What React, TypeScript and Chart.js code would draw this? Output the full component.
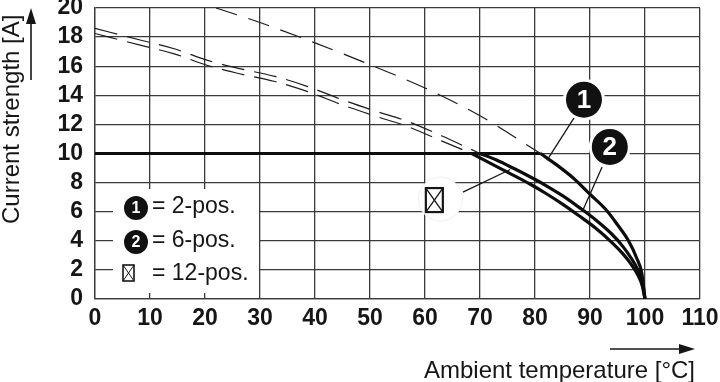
import React, { useEffect, useRef } from "react";
import { Chart, registerables } from "chart.js";

Chart.register(...registerables);

// ---- axis ticks ----
const xTickValues = [0, 10, 20, 30, 40, 50, 60, 70, 80, 90, 100, 110];
const xTickLabels = ["0", "10", "20", "30", "40", "50", "60", "70", "80", "90", "100", "110"];
const yTickValues = [0, 2, 4, 6, 8, 10, 12, 14, 16, 18, 20];
const yTickLabels = ["0", "2", "4", "6", "8", "10", "12", "14", "16", "18", "20"];

// ---- rated current (common horizontal part) ----
const ratedX = [0, 81];
const ratedY = [10, 10];

// ---- 2-pos. ----
const pos2X = [81, 84, 87, 90, 93, 95, 97, 98.5, 99.4, 100];
const pos2Y = [10, 9.2, 8.3, 7.2, 6.1, 5.1, 4.0, 2.8, 1.8, 0];
const pos2DashX = [22, 30, 40, 50, 60, 70, 76, 81];
const pos2DashY = [20, 19.0, 17.6, 16.1, 14.5, 12.6, 11.2, 10];

// ---- 6-pos. ----
const pos6X = [70, 73, 76, 79, 82, 85, 88, 91, 94, 96, 97.5, 98.7, 99.5, 100];
const pos6Y = [10, 9.55, 9.0, 8.42, 7.8, 7.1, 6.3, 5.45, 4.45, 3.6, 2.8, 2.0, 1.2, 0];
const pos6DashX = [0, 8.2, 14.4, 20.5, 25.5, 32.7, 38.7, 44.9, 51.1, 56.9, 63.1, 70];
const pos6DashY = [18.6, 17.8, 17.2, 16.4, 15.9, 15.3, 14.6, 13.7, 12.9, 12.2, 11.2, 10];

// ---- 12-pos. ----
const pos12X = [68.5, 72, 75.5, 79, 82, 85, 88, 91, 94, 96, 97.5, 98.7, 99.5, 100];
const pos12Y = [10, 9.3, 8.62, 7.92, 7.25, 6.52, 5.72, 4.88, 3.88, 3.1, 2.38, 1.65, 0.9, 0];
const pos12DashX = [0, 8.2, 14.4, 20.5, 25.5, 32.7, 38.7, 44.9, 51.1, 56.9, 63.1, 68.5];
const pos12DashY = [18.25, 17.45, 16.85, 16.05, 15.55, 14.95, 14.25, 13.35, 12.55, 11.85, 10.85, 10];

// ---- annotations (data coordinates) ----
const badgeLabels = ["1", "2"];
const badgeX = [88.9, 93.6];
const badgeY = [13.7, 10.45];
const leaderFromX = [87.1, 92.2, 66.9];
const leaderFromY = [12.45, 9.07, 7.35];
const leaderToX = [82.2, 88.7, 75.5];
const leaderToY = [9.55, 6.1, 8.9];
const boxMarkX = 61.7;
const boxMarkY = 6.8;

// ---- legend ----
const legendTexts = ["= 2-pos.", "= 6-pos.", "= 12-pos."];
const legendMarks = ["1", "2", "box"];

const yTitle = "Current strength [A]";
const xTitle = "Ambient temperature [°C]";

const FAMILY = '"Liberation Sans", Arial, Helvetica, sans-serif';
const INK = "#161616";

function zip(xs: number[], ys: number[]) {
  return xs.map((x, i) => ({ x, y: ys[i] }));
}

function drawArrow(ctx: CanvasRenderingContext2D, x1: number, y1: number, x2: number, y2: number) {
  const headLen = 16;
  const headW = 5;
  const ang = Math.atan2(y2 - y1, x2 - x1);
  const bx = x2 - headLen * Math.cos(ang);
  const by = y2 - headLen * Math.sin(ang);
  ctx.save();
  ctx.strokeStyle = INK;
  ctx.fillStyle = INK;
  ctx.lineWidth = 1.6;
  ctx.beginPath();
  ctx.moveTo(x1, y1);
  ctx.lineTo(bx, by);
  ctx.stroke();
  ctx.beginPath();
  ctx.moveTo(x2, y2);
  ctx.lineTo(bx + headW * Math.sin(ang), by - headW * Math.cos(ang));
  ctx.lineTo(bx - headW * Math.sin(ang), by + headW * Math.cos(ang));
  ctx.closePath();
  ctx.fill();
  ctx.restore();
}

function drawBoxX(ctx: CanvasRenderingContext2D, cx: number, cy: number, w: number, h: number, lw: number) {
  ctx.save();
  ctx.strokeStyle = INK;
  ctx.lineWidth = lw;
  ctx.strokeRect(cx - w / 2, cy - h / 2, w, h);
  ctx.lineWidth = lw * 0.6;
  ctx.beginPath();
  ctx.moveTo(cx - w / 2, cy - h / 2);
  ctx.lineTo(cx + w / 2, cy + h / 2);
  ctx.moveTo(cx + w / 2, cy - h / 2);
  ctx.lineTo(cx - w / 2, cy + h / 2);
  ctx.stroke();
  ctx.restore();
}

function drawBadge(ctx: CanvasRenderingContext2D, cx: number, cy: number, r: number, label: string, size: number, halo: number) {
  ctx.save();
  if (halo > 0) {
    ctx.fillStyle = "#ffffff";
    ctx.beginPath();
    ctx.arc(cx, cy, r + halo, 0, Math.PI * 2);
    ctx.fill();
  }
  ctx.fillStyle = "#111111";
  ctx.beginPath();
  ctx.arc(cx, cy, r, 0, Math.PI * 2);
  ctx.fill();
  ctx.fillStyle = "#ffffff";
  ctx.font = `bold ${size}px ${FAMILY}`;
  ctx.textAlign = "center";
  ctx.textBaseline = "middle";
  ctx.fillText(label, cx, cy + size * 0.05);
  ctx.restore();
}

const decorPlugin = {
  id: "decor",
  beforeDraw(chart: any) {
    const { ctx, width, height } = chart;
    ctx.save();
    ctx.fillStyle = "#ffffff";
    ctx.fillRect(0, 0, width, height);
    ctx.restore();
  },
  afterDatasetsDraw(chart: any) {
    const { ctx, chartArea } = chart;
    const xs = chart.scales.x;
    const ys = chart.scales.y;
    const L = chartArea.left;
    const B = chartArea.bottom;

    // legend box (white, covering the grid)
    ctx.save();
    ctx.fillStyle = "#ffffff";
    ctx.fillRect(L + 18, B - 110, 146, 104);
    ctx.restore();
    ctx.save();
    ctx.font = `23px ${FAMILY}`;
    ctx.fillStyle = INK;
    ctx.textAlign = "left";
    ctx.textBaseline = "alphabetic";
    const rowBase = [B - 86, B - 52, B - 19];
    legendTexts.forEach((t, i) => {
      ctx.fillText(t, L + 57, rowBase[i]);
      const m = legendMarks[i];
      if (m === "box") {
        drawBoxX(ctx, L + 33.5, rowBase[i] - 7, 11, 16, 1.6);
      } else {
        drawBadge(ctx, L + 41, rowBase[i] - 5, 12, m, 16, 0);
      }
    });
    ctx.restore();

    // leader lines
    ctx.save();
    ctx.strokeStyle = INK;
    ctx.lineWidth = 1.3;
    leaderFromX.forEach((fx, i) => {
      ctx.beginPath();
      ctx.moveTo(xs.getPixelForValue(fx), ys.getPixelForValue(leaderFromY[i]));
      ctx.lineTo(xs.getPixelForValue(leaderToX[i]), ys.getPixelForValue(leaderToY[i]));
      ctx.stroke();
    });
    ctx.restore();

    // badges
    badgeLabels.forEach((lab, i) => {
      drawBadge(ctx, xs.getPixelForValue(badgeX[i]), ys.getPixelForValue(badgeY[i]), 18, lab, 26, 3);
    });

    // 12-pos box marker with halo
    const bx = xs.getPixelForValue(boxMarkX);
    const by = ys.getPixelForValue(boxMarkY);
    ctx.save();
    ctx.fillStyle = "#ffffff";
    ctx.strokeStyle = "#f0f0f0";
    ctx.lineWidth = 1;
    ctx.beginPath();
    ctx.arc(bx + 6, by - 1, 22, 0, Math.PI * 2);
    ctx.fill();
    ctx.stroke();
    ctx.restore();
    drawBoxX(ctx, bx, by, 17, 24, 2.2);
  },
  afterDraw(chart: any) {
    const { ctx, chartArea } = chart;
    const L = chartArea.left;
    const T = chartArea.top;
    const R = chartArea.right;
    const B = chartArea.bottom;
    ctx.save();
    ctx.fillStyle = INK;
    ctx.font = `24px ${FAMILY}`;
    // y title
    ctx.save();
    ctx.translate(L - 76, B - 75);
    ctx.rotate(-Math.PI / 2);
    ctx.textAlign = "left";
    ctx.textBaseline = "alphabetic";
    ctx.fillText(yTitle, 0, 0);
    ctx.restore();
    // x title
    ctx.textAlign = "right";
    ctx.textBaseline = "alphabetic";
    ctx.fillText(xTitle, R - 5, B + 79);
    ctx.restore();
    // arrows
    drawArrow(ctx, L - 64, T + 72, L - 64, T);
    drawArrow(ctx, R - 90, B + 50, R - 5, B + 50);
  },
};

export default function App() {
  const ref = useRef<HTMLCanvasElement>(null);
  useEffect(() => {
    const canvas = ref.current;
    if (!canvas) return;
    const solid = (data: any[]) => ({
      data,
      borderColor: "#0d0d0d",
      borderWidth: 3.2,
      pointRadius: 0,
      fill: false,
      cubicInterpolationMode: "monotone",
    });
    const dashed = (data: any[], dash: number[]) => ({
      data,
      borderColor: "#1c1c1c",
      borderWidth: 1.2,
      borderDash: dash,
      pointRadius: 0,
      fill: false,
      cubicInterpolationMode: "monotone",
    });
    const tickFont = { family: FAMILY, size: 23, weight: "bold" as const };
    const chart = new Chart(canvas, {
      type: "line",
      data: {
        datasets: [
          dashed(zip(pos2DashX, pos2DashY), [22, 12]),
          dashed(zip(pos6DashX, pos6DashY), [23, 10]),
          dashed(zip(pos12DashX, pos12DashY), [23, 10]),
          solid(zip(ratedX, ratedY)),
          solid(zip(pos2X, pos2Y)),
          solid(zip(pos6X, pos6Y)),
          solid(zip(pos12X, pos12Y)),
        ] as any,
      },
      options: {
        animation: false,
        responsive: false,
        events: [],
        layout: { padding: { left: 0, top: 8, right: 20, bottom: 0 } },
        plugins: { legend: { display: false }, tooltip: { enabled: false } },
        scales: {
          x: {
            type: "linear",
            min: 0,
            max: 110,
            afterBuildTicks: (s: any) => {
              s.ticks = xTickValues.map((v) => ({ value: v }));
            },
            ticks: {
              autoSkip: false,
              maxRotation: 0,
              padding: 6,
              color: INK,
              font: tickFont,
              callback: (v: any) => xTickLabels[xTickValues.indexOf(Number(v))],
            },
            grid: { color: "#3a3a3a", lineWidth: 1.3, drawTicks: false },
            border: { color: "#3a3a3a", width: 1.3 },
            afterFit: (s: any) => {
              s.height = 83;
              s.paddingLeft = 0;
              s.paddingRight = 0;
            },
          },
          y: {
            type: "linear",
            min: 0,
            max: 20,
            afterBuildTicks: (s: any) => {
              s.ticks = yTickValues.map((v) => ({ value: v }));
            },
            ticks: {
              autoSkip: false,
              padding: 12,
              color: INK,
              font: tickFont,
              callback: (v: any) => yTickLabels[yTickValues.indexOf(Number(v))],
            },
            grid: { color: "#3a3a3a", lineWidth: 1.3, drawTicks: false },
            border: { color: "#3a3a3a", width: 1.3 },
            afterFit: (s: any) => {
              s.width = 95;
              s.paddingTop = 0;
              s.paddingBottom = 0;
            },
          },
        },
      } as any,
      plugins: [decorPlugin],
    });
    return () => chart.destroy();
  }, []);
  return (
    <div style={{ position: "fixed", left: 0, top: 0, width: 720, height: 382, background: "#fff" }}>
      <canvas ref={ref} width={720} height={382} style={{ display: "block", width: 720, height: 382 }} />
    </div>
  );
}
